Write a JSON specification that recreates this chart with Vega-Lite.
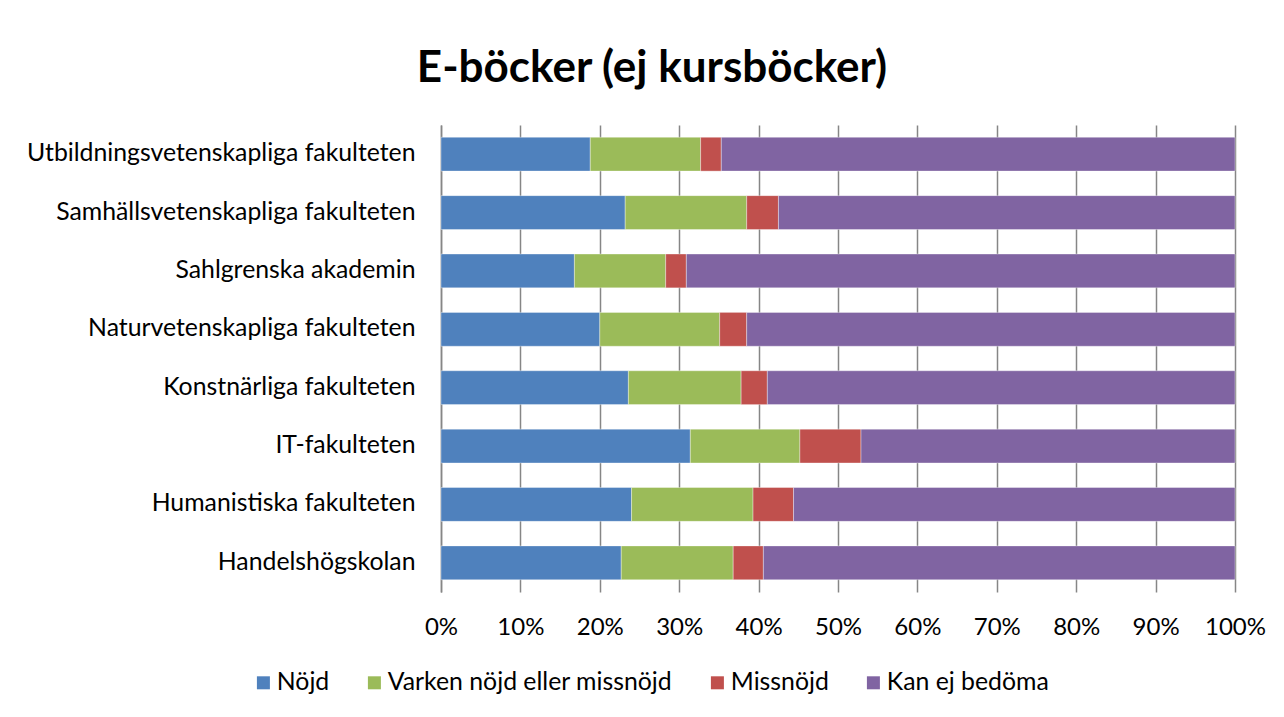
{
  "$schema": "https://vega.github.io/schema/vega-lite/v6.json",
  "width": 794,
  "height": 467,
  "autosize": {"type": "none"},
  "padding": {"left": 441, "top": 125, "right": 49, "bottom": 125},
  "background": "white",
  "title": {
    "text": "E-böcker (ej kursböcker)",
    "font": "Lato",
    "fontSize": 44,
    "fontWeight": "bold",
    "color": "black",
    "anchor": "middle",
    "dx": -186,
    "offset": 34
  },
  "data": {
    "values": [
      {"f": "Utbildningsvetenskapliga fakulteten", "s": "Nöjd", "v": 18.8},
      {"f": "Utbildningsvetenskapliga fakulteten", "s": "Varken nöjd eller missnöjd", "v": 13.9},
      {"f": "Utbildningsvetenskapliga fakulteten", "s": "Missnöjd", "v": 2.6},
      {"f": "Utbildningsvetenskapliga fakulteten", "s": "Kan ej bedöma", "v": 64.7},
      {"f": "Samhällsvetenskapliga fakulteten", "s": "Nöjd", "v": 23.2},
      {"f": "Samhällsvetenskapliga fakulteten", "s": "Varken nöjd eller missnöjd", "v": 15.3},
      {"f": "Samhällsvetenskapliga fakulteten", "s": "Missnöjd", "v": 4.0},
      {"f": "Samhällsvetenskapliga fakulteten", "s": "Kan ej bedöma", "v": 57.5},
      {"f": "Sahlgrenska akademin", "s": "Nöjd", "v": 16.8},
      {"f": "Sahlgrenska akademin", "s": "Varken nöjd eller missnöjd", "v": 11.5},
      {"f": "Sahlgrenska akademin", "s": "Missnöjd", "v": 2.6},
      {"f": "Sahlgrenska akademin", "s": "Kan ej bedöma", "v": 69.1},
      {"f": "Naturvetenskapliga fakulteten", "s": "Nöjd", "v": 20.0},
      {"f": "Naturvetenskapliga fakulteten", "s": "Varken nöjd eller missnöjd", "v": 15.1},
      {"f": "Naturvetenskapliga fakulteten", "s": "Missnöjd", "v": 3.4},
      {"f": "Naturvetenskapliga fakulteten", "s": "Kan ej bedöma", "v": 61.5},
      {"f": "Konstnärliga fakulteten", "s": "Nöjd", "v": 23.6},
      {"f": "Konstnärliga fakulteten", "s": "Varken nöjd eller missnöjd", "v": 14.2},
      {"f": "Konstnärliga fakulteten", "s": "Missnöjd", "v": 3.3},
      {"f": "Konstnärliga fakulteten", "s": "Kan ej bedöma", "v": 58.9},
      {"f": "IT-fakulteten", "s": "Nöjd", "v": 31.4},
      {"f": "IT-fakulteten", "s": "Varken nöjd eller missnöjd", "v": 13.8},
      {"f": "IT-fakulteten", "s": "Missnöjd", "v": 7.7},
      {"f": "IT-fakulteten", "s": "Kan ej bedöma", "v": 47.1},
      {"f": "Humanistiska fakulteten", "s": "Nöjd", "v": 24.0},
      {"f": "Humanistiska fakulteten", "s": "Varken nöjd eller missnöjd", "v": 15.3},
      {"f": "Humanistiska fakulteten", "s": "Missnöjd", "v": 5.1},
      {"f": "Humanistiska fakulteten", "s": "Kan ej bedöma", "v": 55.6},
      {"f": "Handelshögskolan", "s": "Nöjd", "v": 22.7},
      {"f": "Handelshögskolan", "s": "Varken nöjd eller missnöjd", "v": 14.1},
      {"f": "Handelshögskolan", "s": "Missnöjd", "v": 3.8},
      {"f": "Handelshögskolan", "s": "Kan ej bedöma", "v": 59.4}
    ]
  },
  "transform": [
    {"calculate": "indexof(['Nöjd','Varken nöjd eller missnöjd','Missnöjd','Kan ej bedöma'], datum.s)", "as": "ord"}
  ],
  "mark": {"type": "bar", "stroke": "white", "strokeWidth": 0.6, "strokeOpacity": 0.6},
  "encoding": {
    "y": {
      "field": "f",
      "type": "nominal",
      "sort": ["Utbildningsvetenskapliga fakulteten", "Samhällsvetenskapliga fakulteten", "Sahlgrenska akademin", "Naturvetenskapliga fakulteten", "Konstnärliga fakulteten", "IT-fakulteten", "Humanistiska fakulteten", "Handelshögskolan"],
      "scale": {"paddingInner": 0.42, "paddingOuter": 0.21},
      "axis": {
        "title": null,
        "ticks": false,
        "domain": true,
        "domainColor": "#868686",
        "domainWidth": 1.5,
        "labelFont": "Lato",
        "labelFontSize": 24.8,
        "labelColor": "black",
        "labelPadding": 26,
        "labelLimit": 600
      }
    },
    "x": {
      "field": "v",
      "type": "quantitative",
      "stack": "normalize",
      "scale": {"domain": [0, 1], "nice": false},
      "axis": {
        "title": null,
        "values": [0, 0.1, 0.2, 0.3, 0.4, 0.5, 0.6, 0.7, 0.8, 0.9, 1],
        "format": ".0%",
        "grid": true,
        "gridColor": "#868686",
        "gridWidth": 1.5,
        "domain": false,
        "ticks": false,
        "labelFont": "Lato",
        "labelFontSize": 24,
        "labelColor": "black",
        "labelPadding": 23,
        "labelFlush": false
      }
    },
    "color": {
      "field": "s",
      "type": "nominal",
      "scale": {
        "domain": ["Nöjd", "Varken nöjd eller missnöjd", "Missnöjd", "Kan ej bedöma"],
        "range": ["#4F81BD", "#9BBB59", "#C0504D", "#8064A2"]
      },
      "legend": {
        "title": null,
        "orient": "none",
        "direction": "horizontal",
        "legendX": -190,
        "legendY": 545,
        "symbolType": "square",
        "symbolSize": 169,
        "symbolStrokeWidth": 0,
        "labelFont": "Lato",
        "labelFontSize": 24.8,
        "labelColor": "black",
        "labelOffset": 1,
        "columnPadding": 32,
        "labelLimit": 400
      }
    },
    "order": {"field": "ord", "type": "quantitative"}
  },
  "config": {"view": {"stroke": null}}
}
